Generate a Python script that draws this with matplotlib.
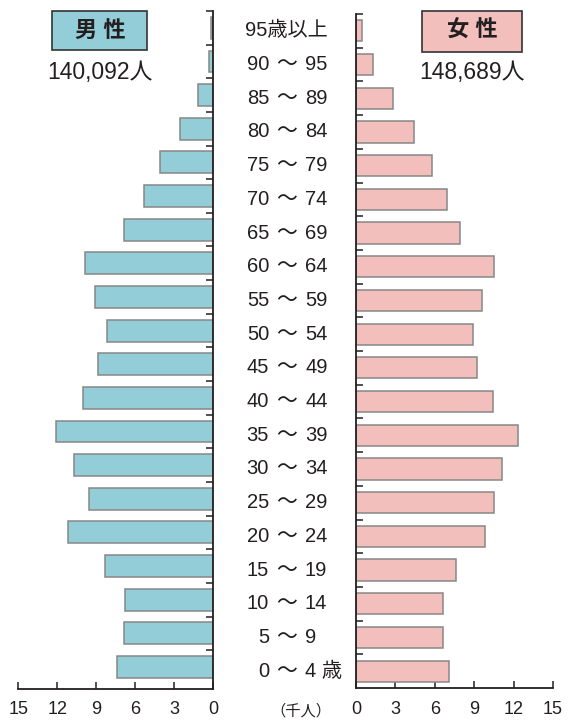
import matplotlib
matplotlib.use("Agg")
import matplotlib.pyplot as plt
from matplotlib.patches import Rectangle
from matplotlib.transforms import blended_transform_factory
import numpy as np

plt.rcParams['font.family'] = ['Liberation Sans', 'Noto Sans CJK JP', 'DejaVu Sans']

# ---- data (top of chart to bottom) ----
age_left = ["95歳以上", "90", "85", "80", "75", "70", "65", "60", "55", "50",
            "45", "40", "35", "30", "25", "20", "15", "10", "5", "0"]
age_right = ["", "95", "89", "84", "79", "74", "69", "64", "59", "54",
             "49", "44", "39", "34", "29", "24", "19", "14", "9", "4 歳"]
male = [0.15, 0.33, 1.15, 2.6, 4.1, 5.3, 6.9, 9.9, 9.1, 8.2,
        8.9, 10.0, 12.1, 10.7, 9.6, 11.2, 8.3, 6.8, 6.9, 7.4]
female = [0.46, 1.3, 2.8, 4.4, 5.8, 6.9, 7.9, 10.5, 9.6, 8.9,
          9.2, 10.4, 12.3, 11.1, 10.5, 9.8, 7.6, 6.6, 6.6, 7.1]
xticks = [0, 3, 6, 9, 12, 15]
male_title = "男 性"
female_title = "女 性"
male_total = "140,092人"
female_total = "148,689人"
unit_label = "（千人）"

male_fill = "#93CDD8"
female_fill = "#F2BFBC"
bar_edge = "#878787"
dark = "#231F20"

W, H = 575, 720
fig = plt.figure(figsize=(W / 100, H / 100), dpi=100)

def fx(px):
    return px / W

def fy(py):
    return 1 - py / H

n = len(male)
ypos = np.arange(n)[::-1]  # top row gets highest y

ax_l = fig.add_axes([fx(18.3), fy(689), fx(213.3) - fx(18.3), fy(11) - fy(689)])
ax_r = fig.add_axes([fx(356), fy(688), fx(553) - fx(356), fy(14) - fy(688)])

ax_l.barh(ypos, male, height=0.65, color=male_fill, edgecolor=bar_edge, linewidth=1.1, zorder=2)
ax_r.barh(ypos, female, height=0.63, color=female_fill, edgecolor=bar_edge, linewidth=1.1, zorder=2)

ax_l.set_xlim(15, 0)
ax_l.set_ylim(-0.655, n - 0.5)
ax_r.set_xlim(0, 15)
ax_r.set_ylim(-0.5, n - 0.5)

for ax, side in ((ax_l, 'right'), (ax_r, 'left')):
    for s in ax.spines:
        ax.spines[s].set_visible(False)
    ax.spines[side].set_visible(True)
    ax.spines['bottom'].set_visible(True)
    for s in (side, 'bottom'):
        ax.spines[s].set_color(dark)
        ax.spines[s].set_linewidth(1.3)
        ax.spines[s].set_zorder(3)
    ax.set_xticks(xticks)
    ax.set_xticklabels([str(t) for t in xticks])
    ax.tick_params(axis='x', direction='in', length=5, width=1.1, color=dark,
                   pad=9, labelsize=13, labelcolor=dark)
    ax.set_yticks(np.arange(n) + 0.5)
    ax.tick_params(axis='y', direction='in', length=5, width=1.1, color=dark,
                   labelleft=False, labelright=False)
    ax.patch.set_visible(False)

ax_l.yaxis.tick_right()
ax_l.tick_params(axis='y', labelright=False)
ax_r.yaxis.tick_left()
ax_r.tick_params(axis='y', labelleft=False)

# ---- age labels ----
tr = blended_transform_factory(fig.transFigure, ax_r.transData)
for i, (a, b) in enumerate(zip(age_left, age_right)):
    yv = ypos[i]
    if b == "":
        ax_r.text(fx(245), yv, a, transform=tr, ha='left', va='center',
                  fontsize=14.5, color=dark, clip_on=False)
    else:
        ax_r.text(fx(269), yv, a, transform=tr, ha='right', va='center',
                  fontsize=14.5, color=dark, clip_on=False)
        ax_r.text(fx(287), yv, "～", transform=tr, ha='center', va='center',
                  fontsize=15, color=dark, clip_on=False)
        ax_r.text(fx(305), yv, b, transform=tr, ha='left', va='center',
                  fontsize=14.5, color=dark, clip_on=False)

# unit label
fig.text(fx(301), fy(711), unit_label, ha='center', va='center', fontsize=11, color=dark)

# ---- header boxes ----
fig.add_artist(Rectangle((fx(52.3), fy(50)), fx(147.3) - fx(52.3), fy(11) - fy(50),
                         transform=fig.transFigure, facecolor=male_fill,
                         edgecolor="#333333", linewidth=1.2))
fig.add_artist(Rectangle((fx(422.3), fy(51.7)), fx(521.7) - fx(422.3), fy(11) - fy(51.7),
                         transform=fig.transFigure, facecolor=female_fill,
                         edgecolor="#333333", linewidth=1.2))
fig.text(fx(100), fy(31), male_title, ha='center', va='center', fontsize=16,
         fontweight='bold', color=dark)
fig.text(fx(472), fy(31), female_title, ha='center', va='center', fontsize=16,
         fontweight='bold', color=dark)
fig.text(fx(100), fy(72), male_total, ha='center', va='center', fontsize=16.5, color=dark)
fig.text(fx(472), fy(72.5), female_total, ha='center', va='center', fontsize=16.5, color=dark)

fig.savefig("out.png", dpi=100)
